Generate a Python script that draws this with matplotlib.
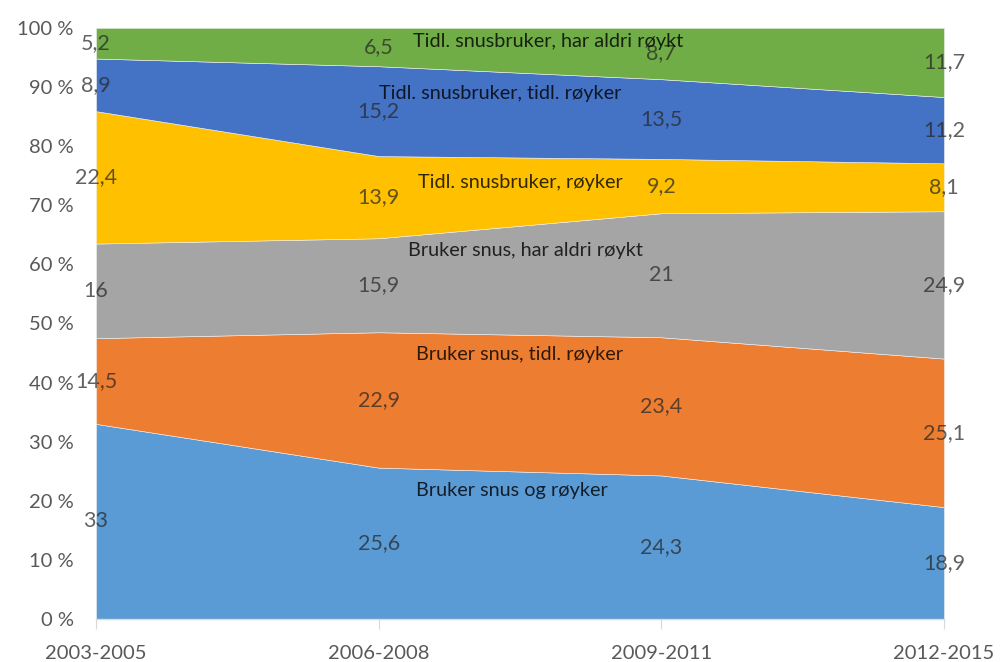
import numpy as np
import matplotlib
matplotlib.use("Agg")
import matplotlib.pyplot as plt

plt.rcParams["font.family"] = ["Lato", "DejaVu Sans"]

periods = ["2003-2005", "2006-2008", "2009-2011", "2012-2015"]

series_names = [
    "Bruker snus og røyker",
    "Bruker snus, tidl. røyker",
    "Bruker snus, har aldri røykt",
    "Tidl. snusbruker, røyker",
    "Tidl. snusbruker, tidl. røyker",
    "Tidl. snusbruker, har aldri røykt",
]

snus_og_royker = [33, 25.6, 24.3, 18.9]
snus_tidl_royker = [14.5, 22.9, 23.4, 25.1]
snus_aldri_roykt = [16, 15.9, 21, 24.9]
tidl_snus_royker = [22.4, 13.9, 9.2, 8.1]
tidl_snus_tidl_royker = [8.9, 15.2, 13.5, 11.2]
tidl_snus_aldri_roykt = [5.2, 6.5, 8.7, 11.7]

colors = ["#5B9BD5", "#ED7D31", "#A5A5A5", "#FFC000", "#4472C4", "#70AD47"]

values = np.array([
    snus_og_royker,
    snus_tidl_royker,
    snus_aldri_roykt,
    tidl_snus_royker,
    tidl_snus_tidl_royker,
    tidl_snus_aldri_roykt,
], dtype=float)

# 100 % stacked: each period's shares scaled to sum to 100
shares = values / values.sum(axis=0) * 100
x = np.arange(len(periods))

fig = plt.figure(figsize=(10, 6.62), dpi=100)
ax = fig.add_axes([0.096, 0.065, 0.848, 0.893])

ax.stackplot(x, shares, colors=colors, edgecolor="#f2f2f2", linewidth=0.4)

ax.set_xlim(0, 3)
ax.set_ylim(0, 100)
ax.set_xticks(x)
ax.set_xticklabels(periods, fontsize=14.5, color="#595959")
ax.set_yticks(np.arange(0, 101, 10))
ax.set_yticklabels([f"{v} %" for v in range(0, 101, 10)], fontsize=14.5, color="#595959")
ax.tick_params(axis="y", length=0, pad=16)
ax.tick_params(axis="x", length=7, color="#d9d9d9", pad=12)
for s in ["top", "right", "left"]:
    ax.spines[s].set_visible(False)
ax.spines["bottom"].set_color("#d9d9d9")
ax.spines["bottom"].set_linewidth(1.0)

# value labels in the middle of each band at each period
bottoms = np.vstack([np.zeros(len(x)), np.cumsum(shares, axis=0)[:-1]])
for i in range(values.shape[0]):
    for j in range(len(x)):
        yc = bottoms[i, j] + shares[i, j] / 2
        txt = f"{values[i, j]:g}".replace(".", ",")
        ax.text(x[j], yc, txt, ha="center", va="center", fontsize=15.5,
                color="#262626", alpha=0.72, clip_on=False)

# series names written inside their bands
name_pos = [(1.47, 21.8), (1.50, 44.7), (1.52, 62.4), (1.50, 73.9), (1.43, 88.9), (1.60, 97.6)]
for name, (px, py) in zip(series_names, name_pos):
    ax.text(px, py, name, ha="center", va="center", fontsize=14.3,
            color="#000000", alpha=0.8)

fig.savefig("out.png", dpi=100)
